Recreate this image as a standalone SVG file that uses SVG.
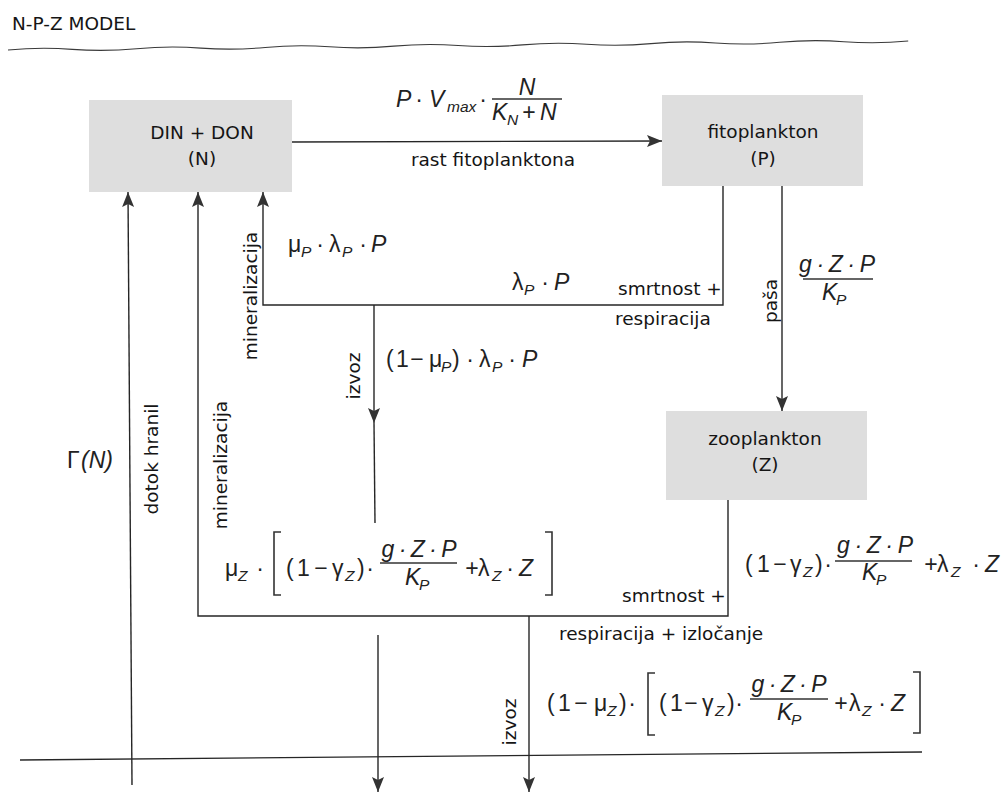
<svg xmlns="http://www.w3.org/2000/svg" width="1002" height="793" viewBox="0 0 1002 793">
<defs>
<style>
.t{font-family:"DejaVu Sans",Verdana,sans-serif;font-size:18.5px;fill:#151515}
.c{text-anchor:middle}
.mi{font-family:"Liberation Sans",Arial,sans-serif;font-style:italic;font-size:23px;fill:#222}
.mr{font-family:"Liberation Sans",Arial,sans-serif;font-size:23px;fill:#222}
.sb{font-family:"Liberation Sans",Arial,sans-serif;font-style:italic;font-size:15.5px;fill:#222}
.box{fill:#dedede}
.ln{fill:none;stroke:#262626;stroke-width:1.4}
.bar{stroke:#333;stroke-width:1.3}
.br{fill:none;stroke:#333;stroke-width:1.6}
</style>
<marker id="ah" viewBox="0 0 16 14" markerWidth="16" markerHeight="14" refX="15" refY="7" orient="auto" markerUnits="userSpaceOnUse">
<path d="M0,1 L15,7 L0,13 L3,7 Z" fill="#333"/>
</marker>
</defs>
<rect width="1002" height="793" fill="#ffffff"/>

<g id="title"><text class="t" x="12" y="30">N-P-Z MODEL</text></g>

<g id="layers">
<path fill="none" stroke="#3a3a3a" stroke-width="1.1" d="M8,50 q32.15,-3 64.3,-0.64 t64.3,-0.64 t64.3,-0.64 t64.3,-0.64 t64.3,-0.64 t64.3,-0.64 t64.3,-0.64 t64.3,-0.64 t64.3,-0.64 t64.3,-0.64 t64.3,-0.64 t64.3,-0.64 t64.3,-0.64 t64.3,-0.64"/>
<line class="ln" x1="20" y1="760" x2="922" y2="752"/>
</g>

<g id="node-N">
<rect class="box" x="89" y="100" width="203" height="92"/>
<text class="t c" x="202" y="139">DIN + DON</text>
<text class="t c" x="202" y="165">(N)</text>
</g>
<g id="node-P">
<rect class="box" x="662" y="95" width="201" height="91"/>
<text class="t c" x="763" y="138">fitoplankton</text>
<text class="t c" x="763" y="165">(P)</text>
</g>
<g id="node-Z">
<rect class="box" x="666" y="411" width="201" height="89"/>
<text class="t c" x="765" y="445">zooplankton</text>
<text class="t c" x="765" y="471">(Z)</text>
</g>

<g id="connectors">
<line class="ln" x1="292" y1="142" x2="662" y2="141" marker-end="url(#ah)"/>
<path class="ln" d="M723,186 V305 H263 V192" marker-end="url(#ah)"/>
<line class="ln" x1="374" y1="305" x2="374" y2="423" marker-end="url(#ah)"/>
<line class="ln" x1="374" y1="423" x2="375" y2="523"/>
<line class="ln" x1="782" y1="186" x2="782" y2="411" marker-end="url(#ah)"/>
<path class="ln" d="M728,500 V616 H198 V192" marker-end="url(#ah)"/>
<line class="ln" x1="529" y1="616" x2="529" y2="792" marker-end="url(#ah)"/>
<line class="ln" x1="132" y1="785" x2="128" y2="192" marker-end="url(#ah)"/>
<line class="ln" x1="378" y1="635" x2="378" y2="792" marker-end="url(#ah)"/>
</g>

<g id="labels">
<!-- growth -->
<text class="mi" x="396" y="107">P</text>
<text class="mr c" x="419" y="107">·</text>
<text class="mi" x="429" y="107">V</text>
<text class="sb" x="447" y="112">max</text>
<text class="mr c" x="483" y="107">·</text>
<text class="mi c" x="527" y="95">N</text>
<line class="bar" x1="492" y1="99" x2="562" y2="99"/>
<text class="mi" x="492" y="120">K</text>
<text class="sb" x="507" y="125">N</text>
<text class="mr c" x="529" y="120">+</text>
<text class="mi" x="540" y="120">N</text>
<text class="t c" x="493" y="166">rast fitoplanktona</text>

<!-- phyto mortality -->
<text class="mr" x="288" y="252">μ</text>
<text class="sb" x="301" y="257">P</text>
<text class="mr c" x="320" y="252">·</text>
<text class="mr" x="329" y="252">λ</text>
<text class="sb" x="342" y="257">P</text>
<text class="mr c" x="363" y="252">·</text>
<text class="mi" x="371" y="252">P</text>

<text class="mr" x="512" y="290">λ</text>
<text class="sb" x="524" y="295">P</text>
<text class="mr c" x="545" y="290">·</text>
<text class="mi" x="554" y="290">P</text>

<text class="t" x="618" y="295">smrtnost +</text>
<text class="t" x="615" y="325">respiracija</text>
<text class="t c" transform="translate(257,296) rotate(-90)">mineralizacija</text>
<text class="t c" transform="translate(360,376) rotate(-90)">izvoz</text>

<text class="mr" x="386" y="367">(</text>
<text class="mr" x="396" y="367">1</text>
<text class="mr c" x="417" y="367">−</text>
<text class="mr" x="429" y="367">μ</text>
<text class="sb" x="441" y="372">P</text>
<text class="mr" x="452" y="367">)</text>
<text class="mr c" x="470" y="367">·</text>
<text class="mr" x="479" y="367">λ</text>
<text class="sb" x="492" y="372">P</text>
<text class="mr c" x="512" y="367">·</text>
<text class="mi" x="522" y="367">P</text>

<!-- grazing -->
<text class="t c" transform="translate(777,301) rotate(-90)">paša</text>
<text class="mi c" x="837" y="272" textLength="76" lengthAdjust="spacing">g · Z · P</text>
<line class="bar" x1="803" y1="279" x2="873" y2="279"/>
<text class="mi" x="822" y="300">K</text>
<text class="sb" x="836" y="305">P</text>

<!-- inflow -->
<text class="mr" x="67" y="468">Γ</text>
<text class="mi" x="81" y="468">(N)</text>
<text class="t c" transform="translate(158,459) rotate(-90)">dotok hranil</text>
<text class="t c" transform="translate(227,465) rotate(-90)">mineralizacija</text>

<!-- zoo mineralization -->
<text class="mr" x="225" y="576">μ</text>
<text class="sb" x="238" y="581">Z</text>
<text class="mr c" x="260" y="576">·</text>
<path class="br" d="M281,532 H274 V595 H281"/>
<text class="mr" x="286" y="576">(</text>
<text class="mr" x="297" y="576">1</text>
<text class="mr c" x="321" y="576">−</text>
<text class="mr" x="332" y="576">γ</text>
<text class="sb" x="345" y="581">Z</text>
<text class="mr" x="357" y="576">)</text>
<text class="mr c" x="370" y="576">·</text>
<text class="mi c" x="419" y="557" textLength="75" lengthAdjust="spacing">g · Z · P</text>
<line class="bar" x1="380" y1="563" x2="457" y2="563"/>
<text class="mi" x="405" y="585">K</text>
<text class="sb" x="419" y="590">P</text>
<text class="mr c" x="472" y="576">+</text>
<text class="mr" x="478" y="576">λ</text>
<text class="sb" x="492" y="581">Z</text>
<text class="mr c" x="510" y="576">·</text>
<text class="mi" x="519" y="576">Z</text>
<path class="br" d="M545,532 H552 V595 H545"/>

<!-- zoo losses -->
<text class="mr" x="745" y="572">(</text>
<text class="mr" x="757" y="572">1</text>
<text class="mr c" x="780" y="572">−</text>
<text class="mr" x="790" y="572">γ</text>
<text class="sb" x="803" y="577">Z</text>
<text class="mr" x="815" y="572">)</text>
<text class="mr c" x="828" y="572">·</text>
<text class="mi c" x="875" y="553" textLength="76" lengthAdjust="spacing">g · Z · P</text>
<line class="bar" x1="835" y1="561" x2="912" y2="561"/>
<text class="mi" x="862" y="580">K</text>
<text class="sb" x="876" y="585">P</text>
<text class="mr c" x="931" y="572">+</text>
<text class="mr" x="937" y="572">λ</text>
<text class="sb" x="951" y="577">Z</text>
<text class="mr c" x="976" y="572">·</text>
<text class="mi" x="985" y="572">Z</text>

<text class="t" x="622" y="602">smrtnost +</text>
<text class="t" x="559" y="640">respiracija + izločanje</text>
<text class="t c" transform="translate(516,722) rotate(-90)">izvoz</text>

<!-- zoo export -->
<text class="mr" x="547" y="711">(</text>
<text class="mr" x="558" y="711">1</text>
<text class="mr c" x="581" y="711">−</text>
<text class="mr" x="594" y="711">μ</text>
<text class="sb" x="607" y="716">Z</text>
<text class="mr" x="619" y="711">)</text>
<text class="mr c" x="632" y="711">·</text>
<path class="br" d="M655,673 H648 V735 H655"/>
<text class="mr" x="659" y="711">(</text>
<text class="mr" x="670" y="711">1</text>
<text class="mr c" x="691" y="711">−</text>
<text class="mr" x="702" y="711">γ</text>
<text class="sb" x="715" y="716">Z</text>
<text class="mr" x="727" y="711">)</text>
<text class="mr c" x="739" y="711">·</text>
<text class="mi c" x="789" y="692" textLength="75" lengthAdjust="spacing">g · Z · P</text>
<line class="bar" x1="750" y1="699" x2="828" y2="699"/>
<text class="mi" x="777" y="720">K</text>
<text class="sb" x="791" y="725">P</text>
<text class="mr c" x="841" y="711">+</text>
<text class="mr" x="849" y="711">λ</text>
<text class="sb" x="862" y="716">Z</text>
<text class="mr c" x="882" y="711">·</text>
<text class="mi" x="891" y="711">Z</text>
<path class="br" d="M913,672 H920 V733 H913"/>
</g>
</svg>
